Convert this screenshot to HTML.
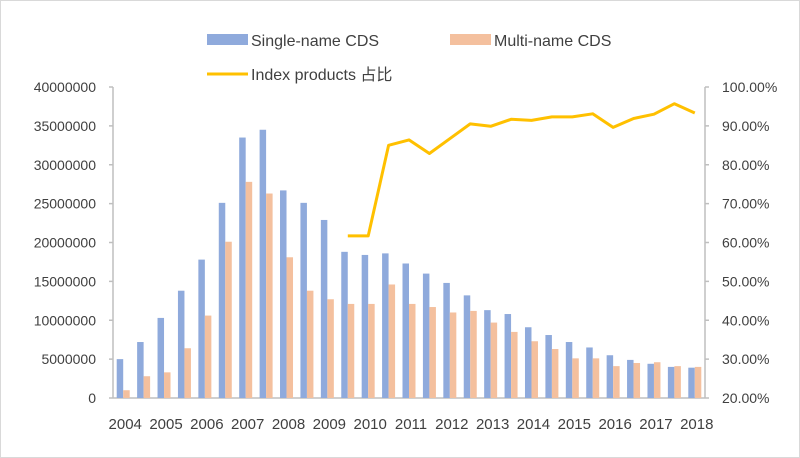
<!DOCTYPE html>
<html><head><meta charset="utf-8"><style>
html,body{margin:0;padding:0;background:#fff;}
svg{display:block;font-family:"Liberation Sans","Noto Sans CJK SC",sans-serif;}
</style></head><body>
<svg id="chart" width="800" height="458" viewBox="0 0 800 458">
<rect x="0.5" y="0.5" width="799" height="457" fill="#fff" stroke="#d9d9d9"/>
<g id="legend">
 <rect x="207" y="34" width="41" height="11" fill="#8faadc"/>
 <text x="251" y="46" font-size="16" fill="#404040">Single-name CDS</text>
 <rect x="450" y="34" width="41" height="11" fill="#f4c09e"/>
 <text x="494" y="46" font-size="16" fill="#404040">Multi-name CDS</text>
 <line x1="207" y1="74" x2="248" y2="74" stroke="#ffc000" stroke-width="3"/>
 <text x="251" y="80" font-size="16" fill="#404040">Index products 占比</text>
</g>
<g id="axes"></g>
<g id="bars"></g>
<g id="line"></g>
</svg>
<script>
const categories=["2004","2004H2","2005","2005H2","2006","2006H2","2007","2007H2","2008","2008H2","2009","2009H2","2010","2010H2","2011","2011H2","2012","2012H2","2013","2013H2","2014","2014H2","2015","2015H2","2016","2016H2","2017","2017H2","2018"];
const singleName=[5.0,7.2,10.3,13.8,17.8,25.1,33.5,34.5,26.7,25.1,22.9,18.8,18.4,18.6,17.3,16.0,14.8,13.2,11.3,10.8,9.1,8.1,7.2,6.5,5.5,4.9,4.4,4.0,3.9];
const multiName=[1.0,2.8,3.3,6.4,10.6,20.1,27.8,26.3,18.1,13.8,12.7,12.1,12.1,14.6,12.1,11.7,11.0,11.2,9.7,8.5,7.3,6.3,5.1,5.1,4.1,4.5,4.6,4.1,4.0];
const indexShare=[null,null,null,null,null,null,null,null,null,null,null,61.7,61.7,85.0,86.4,82.9,86.7,90.5,89.9,91.7,91.4,92.3,92.3,93.1,89.6,91.9,93.0,95.7,93.3];
const leftTicks=[0,5000000,10000000,15000000,20000000,25000000,30000000,35000000,40000000];
const rightTicks=[20,30,40,50,60,70,80,90,100];
const xLabels=["2004","2005","2006","2007","2008","2009","2010","2011","2012","2013","2014","2015","2016","2017","2018"];

const NS="http://www.w3.org/2000/svg";
const X0=113,X1=705,YB=398,YT=87;
const band=(X1-X0)/categories.length;
const yL=v=>YB-(v/40)*(YB-YT);
const yR=p=>YB-((p-20)/80)*(YB-YT);
const xC=i=>X0+band*(i+0.5);
function mk(tag,attrs,parent){const e=document.createElementNS(NS,tag);for(const k in attrs)e.setAttribute(k,attrs[k]);parent.appendChild(e);return e;}
const axes=document.getElementById('axes'),bars=document.getElementById('bars'),lineG=document.getElementById('line');
let e;
e=mk('line',{x1:X0,y1:YT,x2:X0,y2:YB,stroke:'#bfbfbf','stroke-width':1.5},axes);


e=mk('line',{x1:X1,y1:YT,x2:X1,y2:YB,stroke:'#bfbfbf','stroke-width':1.5},axes);


e=mk('line',{x1:X0,y1:YB,x2:X1,y2:YB,stroke:'#bfbfbf','stroke-width':1.5},axes);


leftTicks.forEach(t=>{const y=yL(t/1e6);
 mk('line',{x1:X0-4,y1:y,x2:X0,y2:y,stroke:'#bfbfbf','stroke-width':1.5},axes);
 e=mk('text',{x:96,y:y+5,'font-size':14,fill:'#404040','text-anchor':'end'},axes);e.textContent=String(t);
 
 });
rightTicks.forEach(t=>{const y=yR(t);
 mk('line',{x1:X1,y1:y,x2:X1+4,y2:y,stroke:'#bfbfbf','stroke-width':1.5},axes);
 e=mk('text',{x:722,y:y+5,'font-size':14,fill:'#404040'},axes);e.textContent=t.toFixed(2)+'%';
 
 });
xLabels.forEach((l,k)=>{
 e=mk('text',{x:xC(k*2)+2,y:429,'font-size':15,fill:'#404040','text-anchor':'middle'},axes);e.textContent=l;
 
 });
const bw=6.5;
categories.forEach((c,i)=>{const cx=xC(i);
 e=mk('rect',{x:cx-bw,y:yL(singleName[i]),width:bw,height:YB-yL(singleName[i]),fill:'#8faadc'},bars);
 
 
 e=mk('rect',{x:cx,y:yL(multiName[i]),width:bw,height:YB-yL(multiName[i]),fill:'#f4c09e'},bars);
 
 });
const pts=[];indexShare.forEach((v,i)=>{if(v!==null)pts.push(xC(i).toFixed(1)+','+yR(v).toFixed(1));});
e=mk('polyline',{points:pts.join(' '),fill:'none',stroke:'#ffc000','stroke-width':3,'stroke-linejoin':'round'},lineG);


</script>
</body></html>
